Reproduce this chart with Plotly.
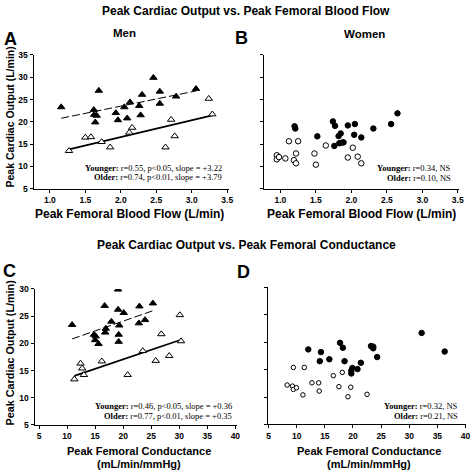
import plotly.graph_objects as go

W, H = 476, 475

# ---------------- DATA ----------------
# Panel A: Men, peak femoral blood flow (L/min) vs peak cardiac output (L/min)
a_young_x = [1.16, 1.62, 1.625, 1.66, 1.64, 1.69, 1.93, 1.96, 2.05, 2.09, 2.13, 2.26, 2.30, 2.28, 2.46, 2.55, 2.55, 2.78, 3.06]
a_young_y = [23.3, 22.7, 21.6, 21.4, 19.9, 27.0, 22.0, 20.4, 23.3, 20.8, 24.4, 23.6, 26.1, 21.5, 29.9, 26.8, 24.1, 25.7, 27.4]
a_old_x = [1.27, 1.50, 1.58, 1.73, 1.85, 2.12, 2.16, 2.71, 2.76, 2.63, 3.24, 3.29]
a_old_y = [13.5, 16.5, 16.6, 15.5, 14.3, 17.6, 18.7, 20.5, 16.8, 14.3, 25.2, 21.7]
a_young_fit = (17.07, 3.22)   # intercept, slope
a_old_fit = (9.0, 3.79)

# Panel B: Women, blood flow
b_young_x = [1.20, 1.21, 1.52, 1.74, 1.77, 1.76, 1.82, 1.85, 1.83, 1.87, 1.89, 1.95, 2.05, 2.04, 2.14, 2.31, 2.56, 2.65]
b_young_y = [19.0, 18.5, 16.75, 20.1, 19.1, 14.6, 16.8, 17.4, 15.2, 15.35, 15.4, 19.2, 19.5, 17.1, 16.5, 18.5, 19.5, 21.9]
b_old_x = [0.95, 0.95, 0.98, 1.07, 1.12, 1.19, 1.22, 1.22, 1.25, 1.48, 1.50, 1.64, 1.95, 2.02, 2.09, 2.14]
b_old_y = [12.5, 11.6, 12.1, 11.8, 15.65, 11.4, 12.9, 10.7, 15.65, 12.9, 10.4, 14.7, 12.0, 14.2, 12.2, 10.7]

# Panel C: Men, peak femoral conductance (mL/min/mmHg)
c_young_x = [10.9, 14.8, 15.1, 15.0, 15.6, 16.7, 16.9, 16.8, 17.9, 19.1, 19.1, 19.3, 19.2, 19.2, 20.1, 22.9, 22.8, 23.9, 25.3]
c_young_y = [23.4, 21.6, 21.3, 20.6, 19.9, 26.9, 22.7, 22.0, 24.0, 29.9, 26.2, 23.3, 21.6, 20.3, 25.6, 26.8, 23.7, 24.3, 27.35]
c_old_x = [11.3, 12.4, 12.7, 13.0, 16.2, 20.8, 23.5, 25.8, 26.8, 28.2, 30.1, 30.3]
c_old_y = [13.4, 16.3, 15.4, 14.2, 16.7, 14.2, 18.6, 16.8, 21.7, 17.7, 25.2, 20.4]
c_young_fit = (16.88, 0.36)
c_old_fit = (10.05, 0.35)

# Panel D: Women, conductance
d_young_x = [12.05, 14.3, 14.1, 15.8, 17.7, 18.2, 18.5, 19.7, 19.7, 19.9, 20.8, 21.4, 23.2, 23.6, 23.6, 24.3, 32.2, 36.3]
d_young_y = [18.7, 18.2, 16.55, 16.9, 19.9, 19.0, 16.55, 14.3, 14.8, 15.3, 15.1, 16.25, 19.3, 19.2, 18.9, 17.3, 21.7, 18.3]
d_old_x = [8.3, 9.25, 9.4, 9.95, 9.4, 11.35, 11.1, 12.7, 13.9, 14.0, 16.5, 18.1, 17.5, 19.1, 19.6, 22.5]
d_old_y = [12.2, 12.0, 11.4, 11.7, 15.4, 15.4, 10.4, 12.6, 12.6, 11.1, 13.9, 14.5, 11.9, 10.05, 11.8, 10.5]

flow_ticks = [1.0, 1.5, 2.0, 2.5, 3.0, 3.5]
cond_ticks = [5, 10, 15, 20, 25, 30, 35, 40]
co_ticks_top = [5, 10, 15, 20, 25, 30, 35]
co_ticks_bot = [5, 10, 15, 20, 25, 30]

stats_a = ("<b>Younger:</b> r=0.55, p&lt;0.05, slope = +3.22", "<b>Older:</b> r=0.74, p&lt;0.01, slope = +3.79")
stats_b = ("<b>Younger:</b> r=0.34, NS", "<b>Older:</b> r=0.10, NS")
stats_c = ("<b>Younger:</b> r=0.46, p&lt;0.05, slope = +0.36", "<b>Older:</b> r=0.77, p&lt;0.01, slope = +0.35")
stats_d = ("<b>Younger:</b> r=0.32, NS", "<b>Older:</b> r=0.21, NS")

# ---------------- LAYOUT HELPERS ----------------
SANS = "Liberation Sans, Arial, sans-serif"
SERIF = "Liberation Serif, Times New Roman, serif"


def fx(px):
    return px / W


def fy(py):
    return 1 - py / H


fig = go.Figure()

# panel geometry in pixels: (left, right, top, bottom)
geo = {
    "A": (32, 230, 51, 187.7),
    "B": (266, 464, 51, 187.7),
    "C": (33, 238, 290, 429),
    "D": (270, 471, 288.5, 428.5),
}
axes_names = {"A": ("x", "y"), "B": ("x2", "y2"), "C": ("x3", "y3"), "D": ("x4", "y4")}


def add_scatter(panel, xs, ys, symbol, filled, size):
    xa, ya = axes_names[panel]
    fig.add_trace(go.Scatter(
        x=xs, y=ys, mode="markers", xaxis=xa, yaxis=ya, showlegend=False,
        hoverinfo="skip",
        marker=dict(symbol=symbol, size=size,
                    color="black" if filled else "white",
                    line=dict(color="black", width=1)),
    ))


def add_fit(panel, xs, fit, dash, width):
    xa, ya = axes_names[panel]
    b0, b1 = fit
    x0, x1 = min(xs), max(xs)
    fig.add_trace(go.Scatter(
        x=[x0, x1], y=[b0 + b1 * x0, b0 + b1 * x1], mode="lines",
        xaxis=xa, yaxis=ya, showlegend=False, hoverinfo="skip",
        line=dict(color="black", width=width, dash=dash),
    ))


# Panel A
add_fit("A", a_young_x, a_young_fit, "8px,3px", 1)
add_fit("A", a_old_x, a_old_fit, "solid", 1.8)
add_scatter("A", a_young_x, a_young_y, "triangle-up", True, 6.5)
add_scatter("A", a_old_x, a_old_y, "triangle-up", False, 6.5)
# Panel B
add_scatter("B", b_old_x, b_old_y, "circle", False, 5.5)
add_scatter("B", b_young_x, b_young_y, "circle", True, 5.5)
# Panel C
add_fit("C", c_young_x, c_young_fit, "8px,3px", 1)
add_fit("C", c_old_x, c_old_fit, "solid", 1.8)
add_scatter("C", c_young_x, c_young_y, "triangle-up", True, 6.5)
add_scatter("C", c_old_x, c_old_y, "triangle-up", False, 6.5)
# Panel D
add_scatter("D", d_old_x, d_old_y, "circle", False, 4.5)
add_scatter("D", d_young_x, d_young_y, "circle", True, 5.5)

tickfont = dict(family=SANS, size=8.5, color="black", weight="bold")


def axis_common():
    return dict(showline=True, linecolor="black", linewidth=1, ticks="outside",
                ticklen=3, tickwidth=1, tickcolor="black", showgrid=False,
                zeroline=False, mirror=False, tickfont=tickfont, fixedrange=True)


def xdom(p):
    l, r, t, b = geo[p]
    return [fx(l), fx(r)]


def ydom(p):
    l, r, t, b = geo[p]
    return [fy(b), fy(t)]


layout = dict(
    width=W, height=H, margin=dict(l=0, r=0, t=0, b=0),
    paper_bgcolor="white", plot_bgcolor="white", showlegend=False,
    hovermode=False,
)
# A
layout["xaxis"] = dict(axis_common(), domain=xdom("A"), range=[0.77, 3.52], anchor="y",
                       tickvals=flow_ticks, ticktext=[f"{v:.1f}" for v in flow_ticks])
layout["yaxis"] = dict(axis_common(), domain=ydom("A"), range=[5, 35], anchor="x",
                       tickvals=co_ticks_top)
# B
layout["xaxis2"] = dict(axis_common(), domain=xdom("B"), range=[0.77, 3.52], anchor="y2",
                        tickvals=flow_ticks, ticktext=[f"{v:.1f}" for v in flow_ticks])
layout["yaxis2"] = dict(axis_common(), domain=ydom("B"), range=[5, 35], anchor="x2",
                        tickvals=co_ticks_top, showticklabels=False)
# C
layout["xaxis3"] = dict(axis_common(), domain=xdom("C"), range=[4.2, 40.2], anchor="y3",
                        tickvals=cond_ticks)
layout["yaxis3"] = dict(axis_common(), domain=ydom("C"), range=[5, 30], anchor="x3",
                        tickvals=co_ticks_bot)
# D
layout["xaxis4"] = dict(axis_common(), domain=xdom("D"), range=[4.9, 40.1], anchor="y4",
                        tickvals=cond_ticks)
layout["yaxis4"] = dict(axis_common(), domain=ydom("D"), range=[5, 30], anchor="x4",
                        tickvals=co_ticks_bot, showticklabels=False)
fig.update_layout(**layout)


def ann(text, x, y, size, family=SANS, xanchor="center", angle=0):
    fig.add_annotation(text=text, x=fx(x), y=fy(y), xref="paper", yref="paper",
                       showarrow=False, xanchor=xanchor, yanchor="middle",
                       textangle=angle, font=dict(family=family, size=size, color="black"))


B = lambda s: f"<b>{s}</b>"

ann(B("Peak Cardiac Output vs. Peak Femoral Blood Flow"), 248, 6, 12)
ann(B("Peak Cardiac Output vs. Peak Femoral Conductance"), 248, 245, 12)
ann(B("A"), 8.5, 35, 18)
ann(B("B"), 243, 34, 18)
ann(B("C"), 8, 272, 18)
ann(B("D"), 245, 273, 18)
ann(B("Men"), 124, 29, 11.5)
ann(B("Women"), 368, 30, 11.5)

ann(B("Peak Cardiac Output (L/min)"), 8, 114, 10.5, angle=-90)
ann(B("Peak Cardiac Output (L/min)"), 8, 355, 10.8, angle=-90)
ann(B("Peak Femoral Blood Flow (L/min)"), 129, 213, 12)
ann(B("Peak Femoral Blood Flow (L/min)"), 365, 213, 12)
ann(B("Peak Femoral Conductance"), 139, 456, 11)
ann(B("(mL/min/mmHg)"), 139, 469, 11)
ann(B("Peak Femoral Conductance"), 372, 456, 11)
ann(B("(mL/min/mmHg)"), 372, 469, 11)

for (t1, t2), xr, y1 in [(stats_a, 225, 166), (stats_b, 458, 167), (stats_c, 235, 410), (stats_d, 465, 410)]:
    ann(t1, xr, y1, 8.5, family=SERIF, xanchor="right")
    ann(t2, xr, y1 + 9.5, 8.5, family=SERIF, xanchor="right")

fig.write_html(
    "out.html",
    config={"displayModeBar": False, "staticPlot": True},
    post_script="document.body.style.margin='0';document.body.style.padding='0';document.documentElement.style.overflow='hidden';",
)
